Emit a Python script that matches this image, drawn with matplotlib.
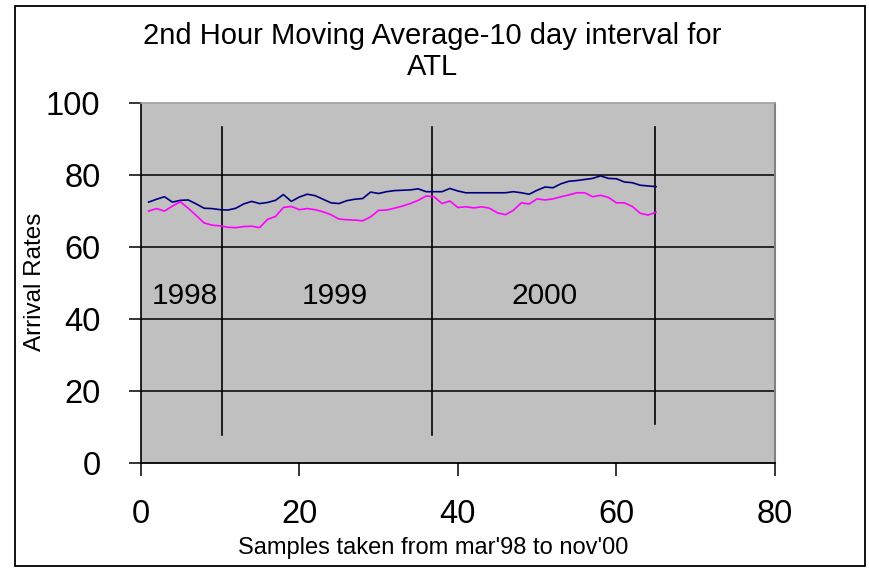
import matplotlib
matplotlib.use('Agg')
import matplotlib.pyplot as plt
from matplotlib.patches import Rectangle

plt.rcParams['font.family'] = ['Liberation Sans', 'DejaVu Sans']

# samples 1..65
samples = list(range(1, 66))

# navy series
series_blue = [72.5, 73.3, 74.0, 72.5, 73.0, 73.1, 72.0, 70.8, 70.7, 70.4,
               70.3, 70.8, 72.0, 72.7, 72.1, 72.4, 73.0, 74.6, 72.7, 73.9,
               74.7, 74.3, 73.3, 72.3, 72.1, 72.9, 73.3, 73.5, 75.3, 74.9,
               75.4, 75.7, 75.8, 75.9, 76.2, 75.4, 75.4, 75.4, 76.3, 75.6,
               75.1, 75.1, 75.1, 75.1, 75.1, 75.1, 75.4, 75.1, 74.7, 75.8,
               76.7, 76.5, 77.6, 78.3, 78.5, 78.8, 79.1, 79.8, 79.1, 79.0,
               78.1, 77.9, 77.2, 77.0, 76.8]

# magenta series
series_pink = [70.0, 70.7, 70.0, 71.4, 72.6, 70.8, 68.8, 66.7, 66.1, 65.9,
               65.5, 65.4, 65.7, 65.8, 65.4, 67.7, 68.5, 71.0, 71.3, 70.4,
               70.7, 70.4, 69.8, 69.0, 67.8, 67.6, 67.5, 67.3, 68.4, 70.2,
               70.3, 70.8, 71.4, 72.1, 73.0, 74.2, 74.0, 72.1, 72.8, 71.0,
               71.2, 70.9, 71.2, 70.8, 69.5, 69.0, 70.2, 72.3, 72.0, 73.4,
               73.1, 73.4, 74.0, 74.5, 75.1, 75.1, 74.0, 74.4, 73.8, 72.3,
               72.3, 71.3, 69.4, 68.9, 69.7]

# year separators and labels
year_lines_x = [10.25, 36.7, 64.85]
year_lines_bottom = [7.8, 7.8, 10.9]
year_lines_top = [93.3, 93.3, 93.3]
year_labels = ['1998', '1999', '2000']
year_labels_x = [5.55, 24.5, 50.9]
year_labels_y = [46.5, 46.5, 46.5]

x_ticks = [0, 20, 40, 60, 80]
y_ticks = [0, 20, 40, 60, 80, 100]

fig = plt.figure(figsize=(8.7, 5.69), dpi=100)
ax = fig.add_axes([0.1617, 0.1868, 0.7291, 0.6317])
ax.set_facecolor('#c0c0c0')

# horizontal gridlines
for v in y_ticks[1:-1]:
    ax.axhline(v, color='black', lw=1.1, zorder=1)

ax.plot(samples, series_blue, color='#000080', lw=1.2, zorder=3)
ax.plot(samples, series_pink, color='#ff00ff', lw=1.2, zorder=3)

for x, y0, y1 in zip(year_lines_x, year_lines_bottom, year_lines_top):
    ax.plot([x, x], [y0, y1], color='black', lw=1.2, zorder=2)

for lab, x, y in zip(year_labels, year_labels_x, year_labels_y):
    ax.text(x, y, lab, ha='center', va='center', fontsize=21.5, zorder=4)

ax.set_xlim(0, 80)
ax.set_ylim(0, 100)
ax.set_xticks(x_ticks)
ax.set_yticks(y_ticks)
ax.tick_params(axis='both', labelsize=23.5, length=9, width=1.1, color='black')
ax.tick_params(axis='y', pad=20)
ax.tick_params(axis='x', pad=17)

ax.spines['left'].set_color('black')
ax.spines['left'].set_linewidth(1.2)
ax.spines['bottom'].set_color('black')
ax.spines['bottom'].set_linewidth(1.3)
ax.spines['right'].set_color('#808080')
ax.spines['right'].set_linewidth(1.5)
ax.spines['top'].set_color('#a0a0a0')
ax.spines['top'].set_linewidth(1.2)

fig.text(0.4966, 0.909, '2nd Hour Moving Average-10 day interval for\nATL',
         ha='center', va='center', fontsize=21, linespacing=1.15)
fig.text(0.0405, 0.5053, 'Arrival Rates', rotation=90,
         ha='center', va='center', fontsize=17.5)
fig.text(0.4977, 0.0369, "Samples taken from mar'98 to nov'00",
         ha='center', va='center', fontsize=17)

# outer chart border
fig.patches.append(Rectangle((15 / 870, 1 - 566 / 569), 850 / 870, 560 / 569,
                             transform=fig.transFigure, fill=False,
                             edgecolor='black', lw=1.3))

fig.savefig('out.png', dpi=100)
